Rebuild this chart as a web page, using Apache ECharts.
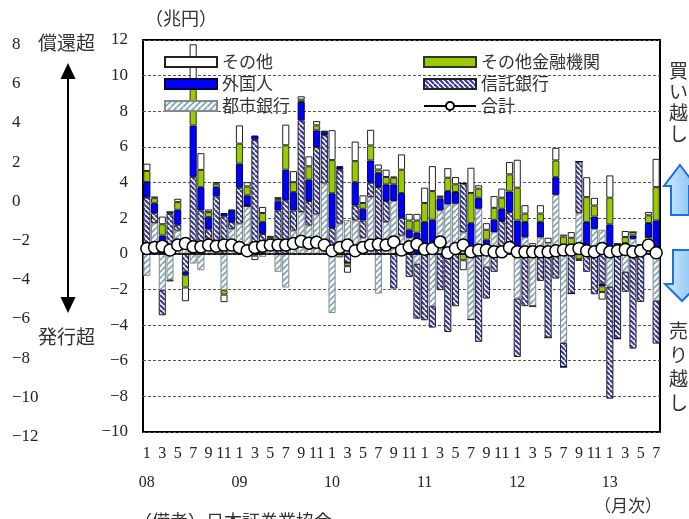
<!DOCTYPE html>
<html>
<head>
<meta charset="utf-8">
<script src="https://cdn.jsdelivr.net/npm/echarts@6/dist/echarts.min.js"></script>
<style>
  html, body { margin: 0; padding: 0; background: #fff; }
  #chart { width: 689px; height: 519px; }
</style>
</head>
<body>
<div id="chart"></div>
<script>
// Monthly net purchases of JGBs by investor type (trillion yen), Jan 2008 - Jul 2013
const yearLabels = ['08', '09', '10', '11', '12', '13'];
const monthsTotal = 67;

// 都市銀行
const cityBanks = [
  -1.24, 1.72, -2.04, -1.45, 1.3, 0.4, -0.55, -0.92, 0.85, 0.3, -2.04, 1.4,
  1.69, 2.68, 0, -0.17, 0.3, -1.01, -1.89, 1.3, 2.34, 1.59, 2.21, 3.95,
  -3.32, 1.69, 1.9, 1.87, 0.9, 3.18, -2.23, 1.78, 2.96, 1.02, 0.9, -0.58,
  0, -2.94, 2.43, 2.77, 2.81, 1.2, -3.69, 2.53, -0.73, 1.22, 0, 0,
  -2.51, 0.92, -2.94, 0.92, 0.6, 3.31, -5.0, 0, 2.28, 0, 1.4, 1.35,
  -1.85, 0, -1.01, 0.84, 0.2, 0.94, -2.64
];
// 信託銀行
const trustBanks = [
  3.15, 0.56, -1.41, 2.25, 0.33, -1.01, 4.32, 2.43, 0.52, 2.92, 2.1, 0.38,
  2.02, 0, 6.4, 1.12, 0.45, 2.43, 3.0, 1.13, 5.15, 1.37, 3.78, 2.71,
  1.44, 3.03, -0.5, 0.84, 0.97, 0.81, 3.75, 1.18, -1.95, 1.0, -1.3, -3.06,
  -3.73, -1.2, -2.04, -4.39, -2.94, 2.75, 0, -4.94, -1.78, -1.01, 1.84, 2.34,
  -3.28, -2.94, 0, -1.52, -4.7, -1.39, -1.35, -2.23, 2.9, -1.01, -2.27, -1.67,
  -6.28, -4.76, -1.12, -5.32, -2.7, 0, -2.4
];
// 外国人
const foreigners = [
  0.88, 0.56, 1.03, 0.1, 0.84, -0.19, 2.88, 1.31, 0.69, 0.52, 0.19, 0.65,
  1.35, 0.6, 0.24, 0.66, 0.05, 0.52, 1.72, 1.03, 1.03, 1.2, 0.94, 0.19,
  1.96, 0.15, 0, 1.31, 0.66, 1.25, 0.79, 0.94, 0.94, 1.39, 0.45, 1.18,
  1.78, 1.91, 0.66, 0.75, 0.66, 0, 1.72, 0.62, 0.79, 0.69, 0.69, 1.16,
  1.87, 0.87, 0.35, 0.87, 0, 0.99, 0, 0, 0, 1.78, 0.69, -0.15,
  1.65, 0, 0.6, 0.19, 0.3, 0.79, 1.87
];
// その他金融機関
const otherFinancial = [
  0.62, 0.28, 0.63, 0, 0.43, -0.69, 2.5, 0.97, 0.28, 0.19, -0.25, 0,
  1.12, 0.5, -0.1, 0.51, 0.15, 0.13, 1.37, 0.56, 0.13, 0.75, 0.28, 0,
  1.86, -0.2, -0.19, 1.18, 0.32, 0.84, 0.19, 0.41, 0.37, 1.31, 0.52, 0.69,
  1.07, 1.61, 0.09, 0.75, 0.43, -0.36, 1.69, 0.51, 0.56, 0.67, 0.62, 0.96,
  1.84, 0.47, 0, 0.47, 0, 0.94, 0.97, 0.9, -0.3, 1.4, 0.62, -0.32,
  1.5, 0.56, 0.34, 0.19, 0, 0.43, 1.87
];
// その他
const others = [
  0.41, 0.1, 0.43, -0.1, 0.19, -0.77, 2.06, 0.94, 0.15, 0.1, -0.42, 0.05,
  1.03, 0.24, -0.25, 0.34, 0.05, 0.1, 1.16, 0.62, 0.19, 0.56, 0.24, 0.05,
  1.68, 0.05, -0.37, 1.1, 0.43, 0.88, 0.28, 0.41, 0.07, 0.86, 0.37, 0.37,
  0.86, 1.4, 0.09, 0.54, 0.41, -0.56, 1.42, 0.19, 0.37, 0.66, 0.51, 0.69,
  1.57, 0.47, 0.25, 0.47, 0.3, 0.71, 0.11, 0.32, -0.1, 1.12, 0.43, -0.43,
  1.25, 0, 0.34, 0, 0, 0.19, 1.59
];
// 合計
const totals = [
  0.3, 0.36, 0.43, 0.21, 0.49, 0.58, 0.39, 0.39, 0.49, 0.43, 0.49, 0.49,
  0.36, 0.17, 0.36, 0.43, 0.49, 0.49, 0.49, 0.58, 0.7, 0.6, 0.65, 0.49,
  0.17, 0.36, 0.49, 0.17, 0.36, 0.49, 0.54, 0.49, 0.67, 0.21, 0.39, 0.54,
  0.26, 0.3, 0.67, 0.06, 0.3, 0.49, 0.11, 0.21, 0.21, 0.11, 0.11, 0.36,
  0.11, 0.11, 0.11, 0.11, 0.11, 0.17, 0.21, 0.21, 0.3, 0.17, 0.11, 0.3,
  0.11, 0.17, 0.24, 0.11, 0.17, 0.49, 0.06
];

// category keys "yy/m"
const categories = [];
for (let i = 0; i < monthsTotal; i++) {
  categories.push(yearLabels[Math.floor(i / 12)] + '/' + (i % 12 + 1));
}

const FONT = "'Liberation Serif', 'Noto Sans CJK JP', serif";
const JFONT = "'Noto Sans CJK JP', 'Liberation Serif', sans-serif";

// diagonal stripe tile used as a repeating fill
function stripeTile(fg, bg, size, lw, rising) {
  const c = document.createElement('canvas');
  c.width = size; c.height = size;
  const g = c.getContext('2d');
  g.fillStyle = bg; g.fillRect(0, 0, size, size);
  g.strokeStyle = fg; g.lineWidth = lw;
  for (let k = -1; k <= 1; k++) {
    g.beginPath();
    if (rising) { g.moveTo(k * size, size); g.lineTo(k * size + size, 0); }
    else { g.moveTo(k * size, 0); g.lineTo(k * size + size, size); }
    g.stroke();
  }
  return c;
}
const cityFill = { image: stripeTile('#7ea3b2', '#f4fafb', 6, 1.6, true), repeat: 'repeat' };
const trustFill = { image: stripeTile('#3b3b9c', '#ffffff', 5, 2.2, false), repeat: 'repeat' };

function barSeries(name, data, fill, border) {
  return {
    name: name, type: 'bar', stack: 'net', data: data,
    barCategoryGap: '8%',
    itemStyle: { color: fill, borderColor: border, borderWidth: 1 },
    emphasis: { disabled: true }
  };
}

const chart = echarts.init(document.getElementById('chart'), null, { renderer: 'canvas' });

const minusFmt = v => String(v).replace('-', '\u2212');

chart.setOption({
  animation: false,
  grid: {
    left: 143, right: 29, top: 40, bottom: 87,
    show: true, borderColor: '#000', borderWidth: 2, backgroundColor: 'transparent'
  },
  legend: [
    {
      orient: 'vertical', left: 159, top: 48, itemWidth: 52, itemHeight: 10, itemGap: 4,
      textStyle: { fontFamily: JFONT, fontSize: 17, color: '#333', lineHeight: 18 },
      data: [
        { name: 'その他', icon: 'rect' },
        { name: '外国人', icon: 'rect' },
        { name: '都市銀行', icon: 'rect' }
      ]
    },
    {
      orient: 'vertical', left: 418, top: 48, itemWidth: 52, itemHeight: 10, itemGap: 4,
      textStyle: { fontFamily: JFONT, fontSize: 17, color: '#333', lineHeight: 18 },
      data: [
        { name: 'その他金融機関', icon: 'rect' },
        { name: '信託銀行', icon: 'rect' },
        { name: '合計' }
      ]
    }
  ],
  xAxis: [
    {
      type: 'category', data: categories, gridIndex: 0,
      axisLine: { show: false }, axisTick: { show: false },
      axisLabel: {
        interval: 0, margin: 14, fontFamily: FONT, fontSize: 16, color: '#222',
        formatter: v => { const m = +v.split('/')[1]; return m % 2 === 1 ? String(m) : ''; }
      }
    },
    {
      type: 'category', data: categories, gridIndex: 0, position: 'bottom', offset: 30,
      axisLine: { show: false }, axisTick: { show: false },
      axisLabel: {
        interval: 0, margin: 13, fontFamily: FONT, fontSize: 16, color: '#222',
        formatter: v => { const p = v.split('/'); return p[1] === '1' ? p[0] : ''; }
      }
    }
  ],
  yAxis: [
    {
      type: 'value', min: -10, max: 12, interval: 2,
      axisLine: { show: false }, axisTick: { show: false },
      axisLabel: { margin: 15, fontFamily: FONT, fontSize: 17, color: '#222', formatter: minusFmt },
      splitLine: { lineStyle: { color: '#555', type: [3, 2], width: 1 } }
    },
    {
      type: 'value', min: -12, max: 8, interval: 2, position: 'left', offset: 123,
      axisLine: { show: false }, axisTick: { show: false }, splitLine: { show: false },
      axisLabel: {
        margin: 8, align: 'left', verticalAlign: 'top', lineHeight: 9,
        fontFamily: FONT, fontSize: 17, color: '#222', formatter: minusFmt
      }
    }
  ],
  series: [
    barSeries('都市銀行', cityBanks, cityFill, '#888'),
    barSeries('信託銀行', trustBanks, trustFill, '#222'),
    barSeries('外国人', foreigners, '#0000ff', '#000044'),
    barSeries('その他金融機関', otherFinancial, '#99cc00', '#333'),
    barSeries('その他', others, '#ffffff', '#222'),
    {
      name: '合計', type: 'line', data: totals,
      symbol: 'circle', symbolSize: 12, showAllSymbol: true,
      lineStyle: { color: '#000', width: 3 },
      itemStyle: { color: '#fff', borderColor: '#000', borderWidth: 1.5 },
      emphasis: { disabled: true },
      markLine: {
        silent: true, symbol: ['none', 'none'], label: { show: false },
        lineStyle: { color: '#000', width: 1.5, type: 'solid' },
        data: [{ yAxis: 0 }]
      },
      z: 5
    }
  ],
  graphic: [
    { type: 'text', left: 145, top: 9, style: { text: '（兆円）', font: '18px ' + JFONT, fill: '#333' } },
    { type: 'text', left: 38, top: 33, style: { text: '償還超', font: '19px ' + JFONT, fill: '#333' } },
    { type: 'text', left: 38, top: 327, style: { text: '発行超', font: '19px ' + JFONT, fill: '#333' } },
    { type: 'line', shape: { x1: 68, y1: 78, x2: 68, y2: 298 }, style: { stroke: '#000', lineWidth: 2 } },
    { type: 'polygon', shape: { points: [[68, 63], [60.5, 79], [75.5, 79]] }, style: { fill: '#000' } },
    { type: 'polygon', shape: { points: [[68, 313], [60.5, 297], [75.5, 297]] }, style: { fill: '#000' } },
    { type: 'text', left: 669, top: 60, style: { text: '買\nい\n越\nし', font: '19px ' + JFONT, lineHeight: 21, fill: '#333' } },
    { type: 'text', left: 669, top: 319, style: { text: '売\nり\n越\nし', font: '19px ' + JFONT, lineHeight: 24, fill: '#333' } },
    {
      type: 'polygon',
      shape: { points: [[680, 165], [696, 186], [689, 186], [689, 215], [671, 215], [671, 186], [664, 186]] },
      style: {
        fill: new echarts.graphic.LinearGradient(0, 0, 1, 0, [{ offset: 0, color: '#d6ecff' }, { offset: 1, color: '#7dbdf5' }]),
        stroke: '#1e6fe0', lineWidth: 2
      }
    },
    {
      type: 'polygon',
      shape: { points: [[673, 250], [691, 250], [691, 284], [699, 284], [682, 301], [665, 284], [673, 284]] },
      style: {
        fill: new echarts.graphic.LinearGradient(0, 0, 1, 0, [{ offset: 0, color: '#d6ecff' }, { offset: 1, color: '#7dbdf5' }]),
        stroke: '#1e6fe0', lineWidth: 2
      }
    },
    { type: 'text', left: 594, top: 497, style: { text: '（月次）', font: '17px ' + JFONT, fill: '#333' } },
    { type: 'text', left: 134, top: 512, style: { text: '（備考）日本証券業協会', font: '18px ' + JFONT, fill: '#333' } }
  ]
});
</script>
</body>
</html>
